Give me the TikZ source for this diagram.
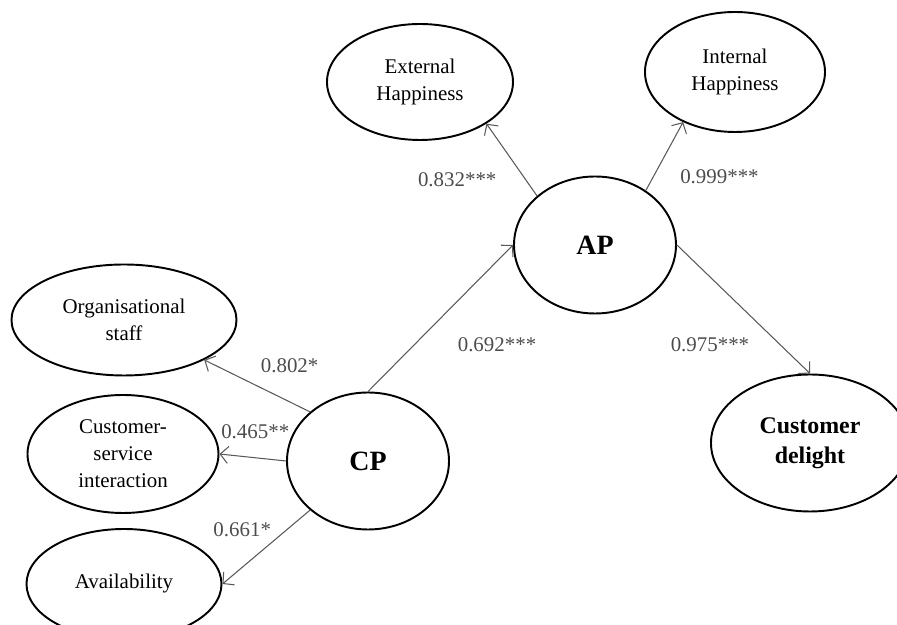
\documentclass[tikz,border=0pt]{standalone}
\usepackage{fontspec}
\setmainfont{Liberation Serif}
\usetikzlibrary{shapes.geometric,arrows.meta,positioning}

\begin{document}
\begin{tikzpicture}[
    node distance=4.9cm,
    construct/.style={ellipse, draw=black, line width=1.1pt, inner sep=0pt, align=center, font=\fontsize{11.9}{15.3}\selectfont},
    latent/.style={construct, minimum width=3.24cm, minimum height=2.74cm, font=\fontsize{15.9}{18}\selectfont\bfseries},
    path/.style={draw=black!65, line width=0.6pt, -{Straight Barb[length=1.6mm, width=3.4mm]}},
    coef/.style={font=\fontsize{11.9}{14}\selectfont, text=black!70}
]
    \clip (-7.36,-3.28) rectangle (10.58,9.22);

    % Latent constructs
    \node [latent] (CP) {CP};
    \node [latent, right of=CP, xshift=-0.36cm, yshift=4.32cm] (AP) {AP};
    \node [latent, right of=AP, xshift=-0.6cm, yshift=-3.96cm, minimum width=3.96cm, font=\fontsize{13.6}{17}\selectfont\bfseries] (delight) {Customer\\delight};

    % Indicators of AP
    \node [construct, left of=AP, xshift=1.4cm, yshift=3.26cm, minimum width=3.72cm, minimum height=2.32cm] (external) {External\\Happiness};
    \node [construct, right of=AP, xshift=-2.1cm, yshift=3.46cm, minimum width=3.6cm, minimum height=2.4cm] (internal) {Internal\\Happiness};

    % Indicators of CP
    \node [construct, left of=CP, xshift=0.02cm, yshift=2.82cm, minimum width=4.5cm, minimum height=2.22cm] (staff) {Organisational\\staff};
    \node [construct, left of=CP, yshift=0.14cm, minimum width=3.82cm, minimum height=2.36cm] (service) {Customer-\\service\\interaction};
    \node [construct, left of=CP, xshift=0.02cm, yshift=-2.46cm, minimum width=3.9cm, minimum height=2.2cm] (avail) {Availability};

    % Paths
    \draw [path] (CP.north) -- node [coef, xshift=1.13cm, yshift=-0.52cm] (c-ap) {0.692***} (AP.west);
    \draw [path] (AP.north west) -- node [coef, xshift=-1.09cm, yshift=-0.4cm] (c-ext) {0.832***} (external.south east);
    \draw [path] (AP.47) -- node [coef, xshift=1.1cm, yshift=-0.41cm] (c-int) {0.999***} (internal.224);
    \draw [path] (AP.east) -- node [coef, xshift=-0.67cm, yshift=-0.7cm] (c-del) {0.975***} (delight.north);

    \draw [path] (CP.north west) -- node [coef, xshift=0.65cm, yshift=0.41cm] (c-staff) {0.802*} (staff.south east);
    \draw [path] (CP.west) -- node [coef, xshift=0.05cm, yshift=0.51cm] (c-serv) {0.465**} (service.east);
    \draw [path] (CP.south west) -- node [coef, xshift=-0.48cm, yshift=0.35cm] (c-avail) {0.661*} (avail.east);
\end{tikzpicture}
\end{document}
